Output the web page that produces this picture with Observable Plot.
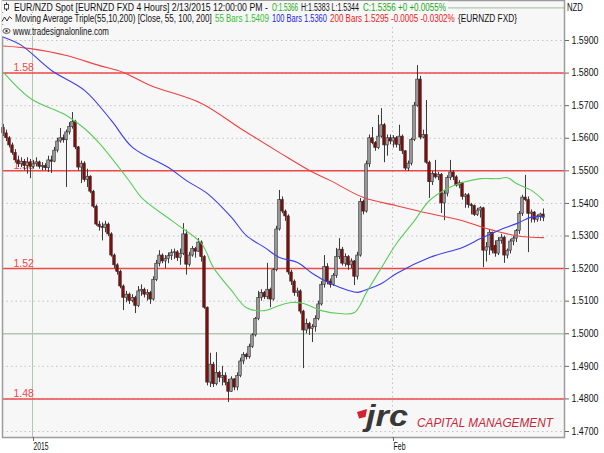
<!DOCTYPE html>
<html><head><meta charset="utf-8">
<script src="https://cdn.jsdelivr.net/npm/d3@7"></script>
<script src="https://cdn.jsdelivr.net/npm/@observablehq/plot@0.6"></script>
<style>
body{margin:0;background:#fff;}
#wrap{position:relative;width:604px;height:453px;overflow:hidden;font-family:"Liberation Sans",Arial,sans-serif;}
#ov{position:absolute;left:0;top:0;pointer-events:none;}
</style></head>
<body><div id="wrap"></div>
<script>
// ---- 4-hour candles (bar index order) ----
const opens = [1.5632,1.5615,1.5600,1.5578,1.5555,1.5532,1.5520,1.5528,1.5515,1.5525,1.5512,1.5520,1.5526,1.5512,1.5515,1.5508,1.5532,1.5528,1.5562,1.5590,
1.5600,1.5594,1.5618,1.5635,1.5650,1.5572,1.5510,1.5522,1.5472,1.5482,1.5436,1.5390,1.5335,1.5328,1.5325,1.5335,1.5305,1.5240,1.5210,1.5190,
1.5145,1.5110,1.5120,1.5100,1.5110,1.5085,1.5130,1.5135,1.5120,1.5125,1.5105,1.5165,1.5215,1.5240,1.5222,1.5230,1.5238,1.5248,1.5250,1.5232,
1.5245,1.5305,1.5212,1.5240,1.5260,1.5252,1.5280,1.5235,1.5080,1.4850,1.4905,1.4845,1.4880,1.4865,1.4870,1.4850,1.4822,1.4860,1.4835,1.4870,
1.4915,1.4935,1.4928,1.4960,1.4995,1.5045,1.5110,1.5125,1.5112,1.5135,1.5105,1.5195,1.5320,1.5410,1.5375,1.5360,1.5188,1.5160,1.5125,1.5130,
1.5068,1.5010,1.5030,1.5015,1.5020,1.5045,1.5090,1.5150,1.5205,1.5160,1.5150,1.5178,1.5235,1.5258,1.5215,1.5235,1.5210,1.5222,1.5175,1.5240,
1.5405,1.5375,1.5520,1.5600,1.5585,1.5570,1.5605,1.5640,1.5578,1.5600,1.5590,1.5600,1.5580,1.5605,1.5560,1.5507,1.5522,1.5595,1.5700,1.5780,
1.5602,1.5610,1.5525,1.5465,1.5490,1.5480,1.5488,1.5400,1.5430,1.5478,1.5495,1.5480,1.5455,1.5462,1.5420,1.5425,1.5395,1.5392,1.5365,1.5378,
1.5385,1.5255,1.5265,1.5310,1.5270,1.5246,1.5285,1.5295,1.5240,1.5255,1.5283,1.5292,1.5315,1.5368,1.5418,1.5410,1.5368,1.5372,1.5350,1.5360,
1.5366];
const highs = [1.5642,1.5625,1.5605,1.5585,1.5565,1.5545,1.5540,1.5535,1.5540,1.5535,1.5532,1.5540,1.5530,1.5525,1.5522,1.5545,1.5545,1.5572,1.5600,1.5630,
1.5610,1.5625,1.5648,1.5679,1.5655,1.5575,1.5530,1.5528,1.5505,1.5485,1.5440,1.5395,1.5345,1.5340,1.5345,1.5340,1.5310,1.5245,1.5215,1.5195,
1.5150,1.5130,1.5125,1.5120,1.5115,1.5145,1.5150,1.5140,1.5135,1.5130,1.5175,1.5225,1.5255,1.5245,1.5240,1.5248,1.5258,1.5260,1.5255,1.5260,
1.5338,1.5318,1.5250,1.5268,1.5265,1.5292,1.5285,1.5240,1.5082,1.4940,1.4912,1.4942,1.4885,1.4900,1.4880,1.4860,1.4868,1.4862,1.4880,1.4925,
1.4942,1.4940,1.4968,1.5000,1.5050,1.5130,1.5135,1.5130,1.5216,1.5140,1.5200,1.5330,1.5440,1.5420,1.5380,1.5365,1.5195,1.5165,1.5140,1.5135,
1.5072,1.5045,1.5035,1.5028,1.5055,1.5100,1.5160,1.5240,1.5215,1.5168,1.5185,1.5262,1.5292,1.5265,1.5245,1.5240,1.5230,1.5225,1.5250,1.5415,
1.5410,1.5530,1.5610,1.5633,1.5590,1.5670,1.5691,1.5645,1.5610,1.5610,1.5608,1.5605,1.5640,1.5610,1.5562,1.5530,1.5600,1.5710,1.5823,1.5790,
1.5625,1.5716,1.5530,1.5498,1.5532,1.5495,1.5492,1.5440,1.5485,1.5532,1.5500,1.5485,1.5470,1.5465,1.5430,1.5430,1.5400,1.5395,1.5385,1.5390,
1.5388,1.5280,1.5320,1.5312,1.5285,1.5295,1.5305,1.5300,1.5260,1.5290,1.5300,1.5320,1.5375,1.5425,1.5486,1.5420,1.5380,1.5375,1.5365,1.5370,
1.5383];
const lows = [1.5605,1.5590,1.5570,1.5548,1.5525,1.5510,1.5510,1.5500,1.5490,1.5476,1.5505,1.5512,1.5505,1.5500,1.5500,1.5495,1.5492,1.5525,1.5555,1.5585,
1.5585,1.5449,1.5610,1.5628,1.5565,1.5500,1.5461,1.5465,1.5449,1.5430,1.5385,1.5330,1.5315,1.5285,1.5310,1.5298,1.5235,1.5200,1.5180,1.5138,
1.5071,1.5095,1.5090,1.5095,1.5062,1.5080,1.5115,1.5110,1.5100,1.5090,1.5100,1.5160,1.5205,1.5215,1.5200,1.5215,1.5225,1.5228,1.5222,1.5210,
1.5240,1.5180,1.5205,1.5235,1.5232,1.5250,1.5220,1.5075,1.4840,1.4835,1.4835,1.4840,1.4850,1.4840,1.4840,1.4789,1.4820,1.4825,1.4825,1.4865,
1.4905,1.4920,1.4922,1.4955,1.4990,1.5040,1.5100,1.5105,1.5105,1.5080,1.5100,1.5190,1.5315,1.5368,1.5345,1.5180,1.5148,1.5115,1.5112,1.5060,
1.4893,1.5000,1.4995,1.4973,1.5005,1.5040,1.5085,1.5140,1.5150,1.5140,1.5145,1.5170,1.5228,1.5208,1.5205,1.5195,1.5200,1.5148,1.5165,1.5235,
1.5365,1.5370,1.5510,1.5580,1.5560,1.5565,1.5600,1.5525,1.5545,1.5580,1.5570,1.5570,1.5560,1.5550,1.5500,1.5498,1.5515,1.5590,1.5695,1.5595,
1.5598,1.5520,1.5415,1.5455,1.5475,1.5470,1.5369,1.5347,1.5420,1.5470,1.5470,1.5450,1.5445,1.5410,1.5385,1.5385,1.5365,1.5360,1.5360,1.5355,
1.5203,1.5220,1.5240,1.5245,1.5235,1.5240,1.5275,1.5216,1.5230,1.5245,1.5270,1.5280,1.5305,1.5360,1.5405,1.5249,1.5340,1.5340,1.5342,1.5345,
1.5344];
const closes = [1.5615,1.5600,1.5578,1.5555,1.5532,1.5520,1.5528,1.5515,1.5525,1.5512,1.5520,1.5526,1.5512,1.5515,1.5508,1.5532,1.5528,1.5562,1.5590,1.5600,
1.5594,1.5618,1.5635,1.5650,1.5572,1.5510,1.5522,1.5472,1.5482,1.5436,1.5390,1.5335,1.5328,1.5325,1.5335,1.5305,1.5240,1.5210,1.5190,1.5145,
1.5110,1.5120,1.5100,1.5110,1.5085,1.5130,1.5135,1.5120,1.5125,1.5105,1.5165,1.5215,1.5240,1.5222,1.5230,1.5238,1.5248,1.5250,1.5232,1.5245,
1.5305,1.5212,1.5240,1.5260,1.5252,1.5280,1.5235,1.5080,1.4850,1.4905,1.4845,1.4880,1.4865,1.4870,1.4850,1.4822,1.4860,1.4835,1.4870,1.4915,
1.4935,1.4928,1.4960,1.4995,1.5045,1.5110,1.5125,1.5112,1.5135,1.5105,1.5195,1.5320,1.5410,1.5375,1.5360,1.5188,1.5160,1.5125,1.5130,1.5068,
1.5010,1.5030,1.5015,1.5020,1.5045,1.5090,1.5150,1.5205,1.5160,1.5150,1.5178,1.5235,1.5258,1.5215,1.5235,1.5210,1.5222,1.5175,1.5240,1.5405,
1.5375,1.5520,1.5600,1.5585,1.5570,1.5605,1.5640,1.5578,1.5600,1.5590,1.5600,1.5580,1.5605,1.5560,1.5507,1.5522,1.5595,1.5700,1.5780,1.5602,
1.5610,1.5525,1.5465,1.5490,1.5480,1.5488,1.5400,1.5430,1.5478,1.5495,1.5480,1.5455,1.5462,1.5420,1.5425,1.5395,1.5392,1.5365,1.5378,1.5385,
1.5255,1.5265,1.5310,1.5255,1.5246,1.5285,1.5295,1.5240,1.5255,1.5283,1.5292,1.5315,1.5368,1.5418,1.5410,1.5368,1.5372,1.5350,1.5360,1.5366,
1.5356];

// ---- Moving averages (read at bar indices) ----
const ma55Idx  = [0,9,21,27,32,42,46,57,66,70,76,81,87,92,96,100,106,112,117,121,126,131,137,142,148,153,159,165,168,171,176,180];
const ma55Val  = [1.5802,1.5722,1.5670,1.5630,1.5584,1.5468,1.5418,1.5341,1.5277,1.5203,1.5133,1.5080,1.5071,1.5087,1.5096,1.5093,1.5071,1.5062,1.5065,1.5127,1.5203,1.5277,1.5347,1.5409,1.5446,1.5464,1.5476,1.5476,1.5479,1.5461,1.5440,1.5409];
const ma100Idx = [0,6,16,27,36,43,55,61,68,76,81,87,92,98,103,109,115,118,122,126,131,142,153,159,165,171,176,180];
const ma100Val = [1.5910,1.5885,1.5808,1.5747,1.5654,1.5572,1.5510,1.5470,1.5430,1.5357,1.5301,1.5265,1.5234,1.5219,1.5185,1.5154,1.5133,1.5127,1.5139,1.5154,1.5185,1.5234,1.5265,1.5292,1.5317,1.5338,1.5358,1.5360];
const ma200Idx = [0,9,21,32,40,49,66,79,92,102,109,120,131,142,153,161,171,180];
const ma200Val = [1.5883,1.5875,1.5854,1.5823,1.5802,1.5762,1.5707,1.5630,1.5556,1.5501,1.5470,1.5418,1.5393,1.5369,1.5347,1.5323,1.5301,1.5295];

// ---- levels, ticks ----
const levels = [1.58, 1.55, 1.52, 1.48];
const levelLabels = ["1.58", "1.55", "1.52", "1.48"];
const yTicks = [1.47,1.48,1.49,1.50,1.51,1.52,1.53,1.54,1.55,1.56,1.57,1.58,1.59];
const gridDotted = [1.47,1.48,1.49,1.51,1.52,1.53,1.54,1.55,1.56,1.57,1.58,1.59];
const gridSolid = [1.50, 1.60];
const xTickIdx = [9.67, 129.67];
const xTickLabels = ["2015", "Feb"];

// ---- header legend texts ----
const head1 = ["EUR/NZD Spot [EURNZD FXD  4 Hours] 2/13/2015 12:00:00 PM -", "O:1.5366", "H:1.5383 L:1.5344", "C:1.5356 +0 +0.0055%"];
const head2 = ["Moving Average Triple(55,10,200) [Close, 55, 100, 200]", "55 Bars 1.5409", "100 Bars 1.5360", "200 Bars 1.5295 -0.0005 -0.0302%", "{EURNZD FXD}"];
const head3 = "www.tradesignalonline.com";

const candles = closes.map((c, i) => ({i, open: opens[i], high: highs[i], low: lows[i], close: c}));
const mk = (idx, val) => idx.map((i, k) => ({i, v: val[k]}));
const ma55 = mk(ma55Idx, ma55Val), ma100 = mk(ma100Idx, ma100Val), ma200 = mk(ma200Idx, ma200Val);

const FONT = '"Liberation Sans", Arial, sans-serif';
const chart = Plot.plot({
  width: 604, height: 453,
  marginLeft: 2, marginRight: 40, marginTop: 0, marginBottom: 16,
  x: {domain: [-0.33, 187], axis: null},
  y: {domain: [1.46816, 1.60228], axis: null},
  style: {fontFamily: FONT, fontSize: "10px", color: "#111", background: "#fff"},
  marks: [
    Plot.frame({fill: "#f7f7f7"}),
    Plot.ruleY(gridDotted, {stroke: "#c2c2c2", strokeDasharray: "1.5,3"}),
    Plot.ruleY(gridSolid, {stroke: "#b3c6b3", strokeWidth: 1.3}),
    Plot.ruleX([xTickIdx[0]], {stroke: "#b3c6b3"}),
    Plot.ruleX([xTickIdx[1]], {stroke: "#c2c2c2", strokeDasharray: "1.5,3"}),
    Plot.ruleY(levels, {stroke: "#f04848", strokeWidth: 1.5}),
    Plot.text(levels, {y: d => d, text: (d, i) => levelLabels[i], frameAnchor: "left", dx: 11, dy: -2, lineAnchor: "bottom", textAnchor: "start", fill: "#f04848", fontSize: 10.5, ariaLabel: "levels"}),
    Plot.ruleX(candles, {x: "i", y1: "low", y2: "high", stroke: "#3a3a3a", strokeWidth: 1}),
    Plot.rect(candles, {x1: d => d.i - 0.42, x2: d => d.i + 0.42, y1: "open", y2: "close",
      fill: d => d.close >= d.open ? "#9c9c9c" : "#8a0a0a", stroke: "#2a2a2a", strokeWidth: 0.6}),
    Plot.line(ma200, {x: "i", y: "v", stroke: "#f04040", strokeWidth: 1.1, curve: "catmull-rom"}),
    Plot.line(ma100, {x: "i", y: "v", stroke: "#3c3cf0", strokeWidth: 1.1, curve: "catmull-rom"}),
    Plot.line(ma55, {x: "i", y: "v", stroke: "#5ccc5c", strokeWidth: 1.1, curve: "catmull-rom"}),
    Plot.frame({stroke: "#9c9c9c", strokeWidth: 1.5}),
    Plot.axisY(yTicks, {anchor: "right", label: null, tickFormat: d => d.toFixed(4), tickSize: 4, tickPadding: 3, fontSize: 10, stroke: "#666"}),
    Plot.axisX(xTickIdx, {anchor: "bottom", label: null, tickFormat: d => xTickLabels[xTickIdx.indexOf(d)], tickSize: 4, tickPadding: 1, textAnchor: "start", dx: 1, fontSize: 10, stroke: "#666"})
  ]
});
const wrap = document.getElementById("wrap");
wrap.appendChild(chart);

// condense axis / label text like the original terminal font
const fit = (sel, w) => chart.querySelectorAll(sel).forEach(t => {
  const ww = typeof w === "function" ? w(t) : w;
  t.setAttribute("textLength", ww); t.setAttribute("lengthAdjust", "spacingAndGlyphs");
});
fit('g[aria-label="y-axis tick label"] text', 27);
fit('g[aria-label="x-axis tick label"] text', t => t.textContent === "Feb" ? 12 : 15);
fit('g[aria-label="levels"] text', 15);

// ---- header, legend, logo overlay ----
const NS = "http://www.w3.org/2000/svg";
const ov = document.createElementNS(NS, "svg");
ov.setAttribute("id", "ov"); ov.setAttribute("width", 604); ov.setAttribute("height", 453);
ov.setAttribute("font-family", FONT);
const T = (x, y, len, txt, fill, fs = 10, extra = "") =>
  `<text class="fit" data-x="${x}" data-y="${y}" data-len="${len}" data-fs="${fs}" font-size="${fs}" fill="${fill}" ${extra}>${txt}</text>`;
ov.innerHTML = `
<rect x="2" y="1" width="446" height="11" fill="#f7f7f7"/>
<rect x="2" y="13" width="518" height="11" fill="#f7f7f7"/>
<rect x="2" y="25" width="109" height="11" fill="#f7f7f7"/>
<line x1="6.5" y1="2.5" x2="6.5" y2="11" stroke="#222"/>
<rect x="4.5" y="4.5" width="4" height="4.5" fill="#fff" stroke="#222" stroke-width="0.8"/>
<path d="M2,21.5 L4.5,17 L7,21 L9.5,16.5 L12,19" fill="none" stroke="#222" stroke-width="0.9"/>
<ellipse cx="6.5" cy="31" rx="3.6" ry="2.4" fill="none" stroke="#444" stroke-width="0.9"/>
<circle cx="6.5" cy="31" r="1.2" fill="#444"/>
${T(14, 10.6, 254, head1[0], "#111")}
${T(272, 10.6, 26, head1[1], "#18a818")}
${T(301, 10.6, 58, head1[2], "#111")}
${T(363, 10.6, 83, head1[3], "#18a818")}
${T(15, 22.4, 197, head2[0], "#111")}
${T(215, 22.4, 54, head2[1], "#30c030")}
${T(272, 22.4, 55, head2[2], "#2020f0")}
${T(330, 22.4, 125, head2[3], "#f02020")}
${T(458, 22.4, 59, head2[4], "#111")}
${T(13, 34.5, 96, head3, "#111")}
${T(567, 10.5, 16, "NZD", "#111")}
<polygon points="357,412 367,409 365.5,417 359,418.5" fill="#d42030"/>
${T(366, 426, 42, "jrc", "#383838", 30, 'font-weight="bold" font-style="italic"')}
${T(417, 426.5, 136, "CAPITAL MANAGEMENT", "#c8283a", 13.5, 'font-style="italic"')}
`;
wrap.appendChild(ov);
// shrink each overlay text to its measured width: smaller font, stretched back vertically
ov.querySelectorAll("text.fit").forEach(t => {
  const fs = +t.dataset.fs, target = +t.dataset.len;
  const nat = t.getComputedTextLength();
  const f = fs * target / nat;
  t.setAttribute("font-size", f.toFixed(3));
  t.setAttribute("x", 0); t.setAttribute("y", 0);
  t.setAttribute("transform", `translate(${t.dataset.x},${t.dataset.y}) scale(1,${(fs / f).toFixed(4)})`);
});
</script>
</body></html>
